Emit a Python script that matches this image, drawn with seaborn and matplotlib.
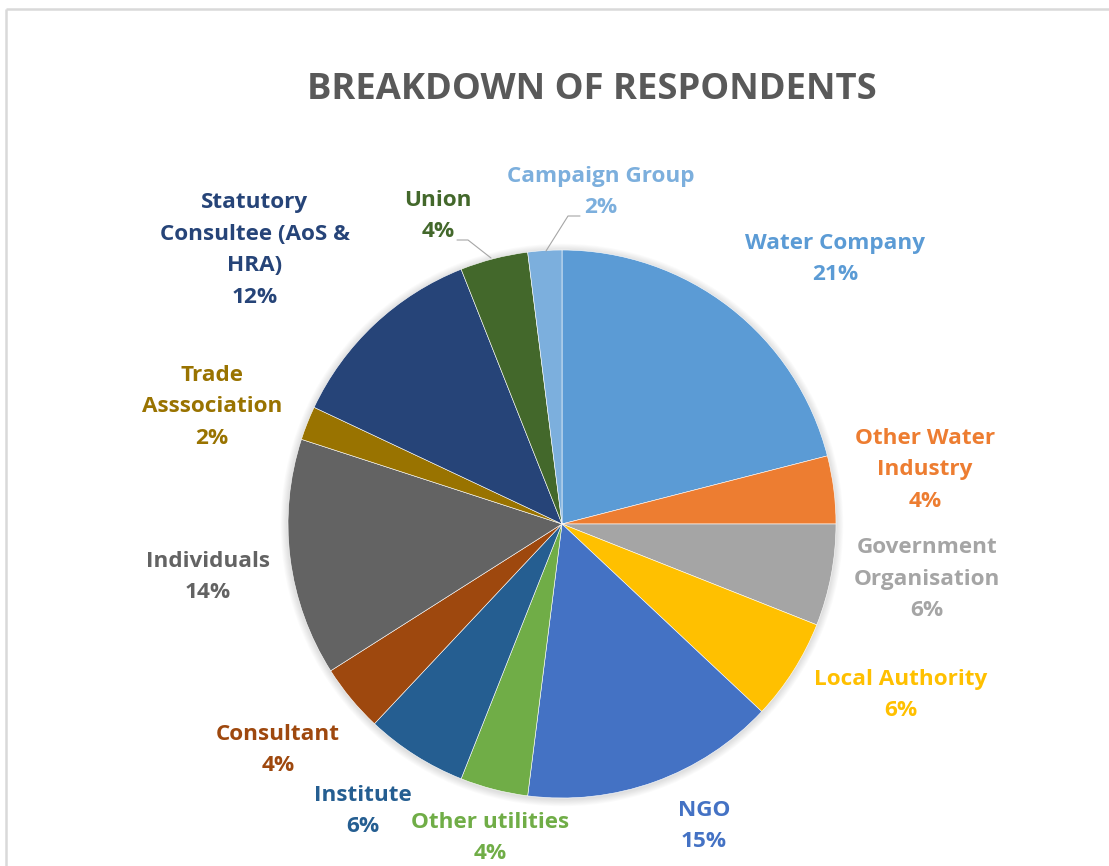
import matplotlib
matplotlib.use("Agg")
import matplotlib.pyplot as plt
from matplotlib.patches import Circle
import seaborn as sns

# Respondent categories, in clockwise order starting at 12 o'clock
categories = [
    "Water Company", "Other Water\nIndustry", "Government\nOrganisation",
    "Local Authority", "NGO", "Other utilities", "Institute", "Consultant",
    "Individuals", "Trade\nAsssociation", "Statutory\nConsultee (AoS &\nHRA)",
    "Union", "Campaign Group",
]
shares = [21, 4, 6, 6, 15, 4, 6, 4, 14, 2, 12, 4, 2]
colors = [
    "#5B9BD5", "#ED7D31", "#A5A5A5", "#FFC000", "#4472C4", "#70AD47",
    "#255E91", "#9E480E", "#636363", "#997300", "#264478", "#43682B",
    "#7CAFDD",
]

# Label anchor points (pixel space, y measured from the top)
label_pos = [
    (835, 259), (925, 470), (927, 579), (901, 695), (704, 826), (490, 838),
    (363, 811), (278, 750), (208, 577), (212, 407), (255, 250), (438, 216),
    (601, 192),
]

W, H = 1109, 866
CX, CY, R = 562, 524, 274

sns.set_theme(style="white")
plt.rcParams["font.family"] = ["Open Sans", "DejaVu Sans"]

fig = plt.figure(figsize=(W / 100, H / 100), dpi=100)
ax = fig.add_axes([0, 0, 1, 1])


def py(y):
    return H - y


# Chart-area frame (top and left edges visible)
ax.plot([6, W + 5], [py(9), py(9)], color="#D9D9D9", lw=1.8, solid_capstyle="butt")
ax.plot([6, 6], [py(9), -5], color="#D9D9D9", lw=1.8, solid_capstyle="butt")

# Soft shadow around the pie
for i in range(8):
    ax.add_patch(Circle((CX, py(CY) - 1), R + 1 + i * 0.9, color="black",
                        alpha=0.016, lw=0, zorder=1))

wedges, _ = ax.pie(
    shares, colors=colors, startangle=90, counterclock=False,
    center=(CX, py(CY)), radius=R, frame=True,
    wedgeprops=dict(edgecolor="white", linewidth=0.4),
)
for w in wedges:
    w.set_zorder(2)
ax.set_xlim(0, W)
ax.set_ylim(0, H)
ax.axis("off")

ax.text(592, py(90), "BREAKDOWN OF RESPONDENTS", ha="center", va="center",
        fontsize=26.2, fontweight="bold", color="#595959")

for name, val, col, (x, y) in zip(categories, shares, colors, label_pos):
    ax.text(x, py(y), f"{name}\n{val}%", ha="center", va="center",
            fontsize=16.2, fontweight="bold", color=col, linespacing=1.66)

# Leader lines for the two narrow top slices
ax.plot([457, 468, 491], [py(240), py(240), py(258)], color="#A6A6A6", lw=0.8)
ax.plot([580, 568, 546], [py(216), py(216), py(251)], color="#A6A6A6", lw=0.8)

fig.savefig("out.png", dpi=100, facecolor="white")
